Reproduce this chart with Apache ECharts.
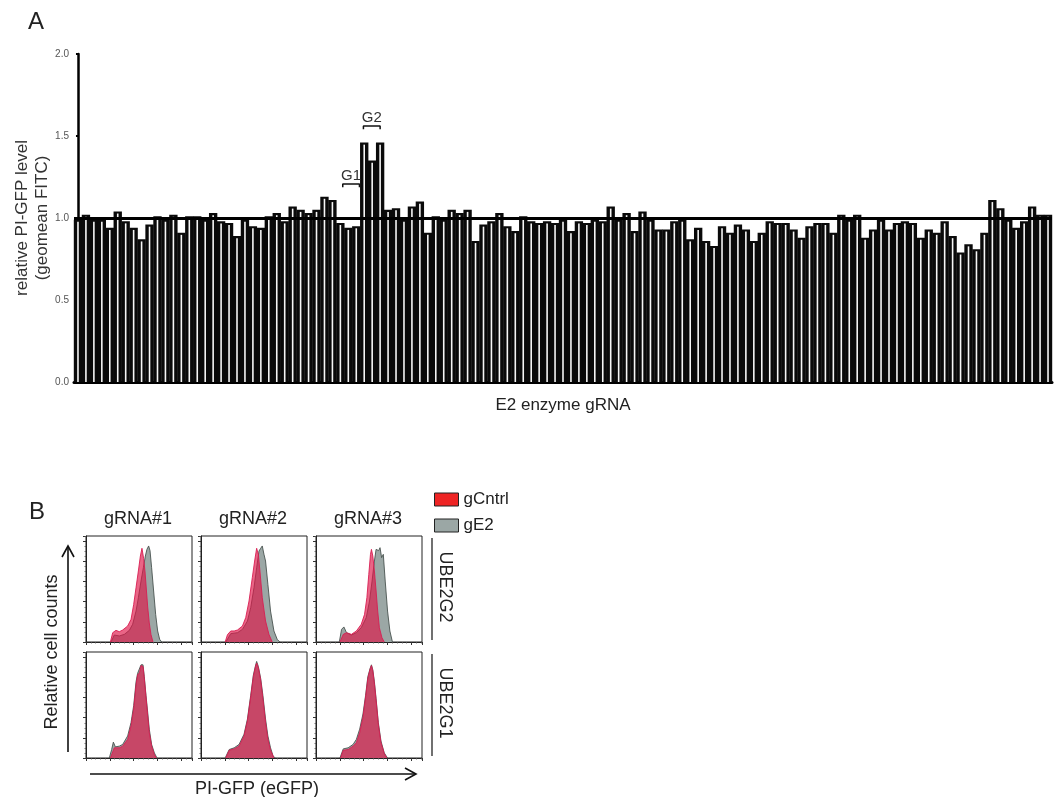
<!DOCTYPE html>
<html><head><meta charset="utf-8">
<script src="https://cdn.jsdelivr.net/npm/echarts@6/dist/echarts.min.js"></script>
<style>html,body{margin:0;padding:0;background:#fff}#c{width:1056px;height:797px}</style>
</head><body><div id="c"></div>
<script>
// ---------- Panel A data ----------
const relativeLevel = [
  0.99,1.02,0.99,0.99,0.94,1.04,0.98,0.94,0.87,0.96,
  1.01,0.99,1.02,0.91,1.01,1.01,0.99,1.03,0.98,0.97,
  0.89,0.99,0.95,0.94,1.01,1.03,0.98,1.07,1.05,1.03,
  1.05,1.13,1.11,0.97,0.94,0.95,1.46,1.35,1.46,1.05,
  1.06,0.99,1.07,1.10,0.91,1.01,0.99,1.05,1.03,1.05,
  0.86,0.96,0.98,1.03,0.95,0.92,1.01,0.98,0.97,0.98,
  0.97,0.99,0.92,0.98,0.97,0.99,0.98,1.07,0.99,1.03,
  0.92,1.04,0.99,0.93,0.93,0.98,0.99,0.87,0.94,0.86,
  0.83,0.95,0.91,0.96,0.93,0.86,0.91,0.98,0.97,0.97,
  0.93,0.88,0.95,0.97,0.97,0.91,1.02,0.99,1.02,0.88,
  0.93,0.99,0.93,0.97,0.98,0.97,0.88,0.93,0.91,0.98,
  0.89,0.79,0.84,0.81,0.91,1.11,1.06,0.99,0.94,0.98,
  1.07,1.02,1.02
];
const gRNACategories = relativeLevel.map((v, i) => 'gRNA ' + (i + 1));
const referenceLevel = 1.0;
const groupMarks = [
  { name: 'G1', from: 33.3, to: 35.4, y: 1.207, textY: 1.256 },
  { name: 'G2', from: 35.9, to: 38.0, y: 1.561, textY: 1.613 }
];

// ---------- Panel B data (x: display channel %, y: % of max count) ----------
const columnLabels = ['gRNA#1', 'gRNA#2', 'gRNA#3'];
const rowLabels = ['UBE2G2', 'UBE2G1'];
const legendNames = ['gCntrl', 'gE2'];

const ube2g2_g1_gCntrl = [[23.0,0],[25.2,8.8],[28.3,11.0],[31.4,9.7],[34.6,11.3],[39.3,15.1],[42.5,21.4],[45.0,35.5],[47.2,51.3],[49.4,67.0],[51.3,81.1],[52.8,88.4],[54.4,78.6],[55.7,66.0],[56.9,50.0],[58.2,33.0],[59.7,18.0],[61.3,7.0],[63.2,0]];
const ube2g2_g1_gE2 = [[23.6,0],[26.7,6.6],[31.4,5.7],[36.2,7.2],[40.9,11.0],[44.0,16.7],[47.2,29.2],[49.4,41.8],[51.9,57.5],[54.1,70.1],[56.0,81.1],[57.5,87.4],[59.1,90.6],[60.4,86.2],[61.9,70.1],[63.8,48.1],[65.7,26.1],[67.6,10.4],[69.5,2.5],[71.4,0]];
const ube2g2_g2_gCntrl = [[22.8,0],[25.0,7.0],[28.1,10.4],[31.3,10.4],[34.4,11.3],[39.1,15.1],[42.2,23.0],[45.3,38.7],[48.4,60.7],[50.6,76.4],[52.5,88.4],[54.1,82.7],[55.6,67.0],[57.8,41.8],[60.9,19.8],[64.1,7.2],[67.2,0]];
const ube2g2_g2_gE2 = [[23.4,0],[28.1,7.9],[34.4,8.8],[39.1,11.9],[43.8,19.8],[46.9,32.4],[50.0,51.3],[52.5,70.0],[54.7,85.8],[56.3,88.4],[57.8,90.6],[59.4,82.7],[60.9,76.4],[63.1,54.4],[65.6,29.2],[68.8,10.4],[71.9,2.5],[74.4,0]];
const ube2g2_g3_gCntrl = [[22.6,0],[25.7,7.2],[28.8,8.8],[33.4,7.2],[38.1,10.4],[42.7,16.7],[45.8,26.1],[48.0,41.8],[49.8,63.8],[51.4,82.7],[52.3,87.4],[53.6,81.1],[55.1,67.0],[56.7,48.1],[58.2,29.2],[59.8,13.5],[62.2,4.1],[64.4,0]];
const ube2g2_g3_gE2 = [[22.0,0],[24.1,11.9],[26.3,14.2],[28.8,8.8],[33.4,6.6],[38.1,8.8],[42.7,13.5],[47.4,23.0],[50.5,38.7],[52.9,57.5],[55.1,76.4],[56.7,87.4],[58.2,89.0],[59.1,86.2],[60.4,89.0],[61.9,79.6],[63.5,82.7],[65.3,57.5],[67.5,29.2],[69.7,10.4],[72.1,0]];
const ube2g1_g1_gCntrl = [[23.0,0],[26.7,9.6],[31.4,9.6],[34.6,11.2],[39.3,17.6],[42.5,30.4],[45.0,46.3],[47.2,68.7],[48.7,78.3],[50.6,80.8],[51.9,87.2],[52.8,88.5],[53.8,86.3],[55.0,75.1],[56.6,57.5],[58.2,39.9],[59.7,24.0],[61.9,11.2],[64.5,3.2],[66.4,0]];
const ube2g1_g1_gE2 = [[22.0,0],[24.2,8.0],[25.8,15.0],[27.7,10.5],[31.4,11.2],[34.6,12.8],[39.3,20.8],[42.5,33.5],[45.0,49.5],[47.2,71.9],[48.7,79.9],[50.3,81.5],[51.9,87.9],[52.8,89.5],[53.8,87.9],[55.0,76.7],[56.6,59.1],[58.2,43.1],[59.7,27.2],[61.9,12.8],[64.5,4.8],[67.0,0]];
const ube2g1_g2_gCntrl = [[23.4,0],[26.6,7.3],[31.3,8.6],[35.9,11.2],[40.6,20.8],[43.8,35.1],[46.9,57.5],[49.4,76.7],[51.6,87.2],[52.5,89.5],[54.1,85.3],[56.3,73.5],[58.4,55.9],[60.9,33.5],[63.1,17.6],[65.6,7.3],[68.8,0]];
const ube2g1_g2_gE2 = [[22.8,0],[26.6,8.0],[31.3,9.6],[35.9,12.8],[40.6,22.4],[43.8,36.7],[46.9,59.1],[49.4,78.3],[51.6,87.9],[52.5,91.1],[54.1,86.3],[56.3,75.1],[58.4,59.1],[60.9,36.7],[63.1,20.8],[65.6,9.6],[68.1,1.6],[70.3,0]];
const ube2g1_g3_gCntrl = [[23.2,0],[25.7,7.3],[30.3,8.0],[35.0,11.2],[38.1,14.4],[41.2,24.0],[44.3,38.3],[46.8,57.5],[48.9,75.1],[51.1,84.0],[52.3,87.2],[53.6,82.1],[55.1,70.3],[56.7,54.3],[58.8,31.9],[61.3,14.4],[64.4,4.2],[66.8,0]];
const ube2g1_g3_gE2 = [[22.6,0],[25.7,8.6],[30.3,9.6],[35.0,12.8],[38.1,17.6],[41.2,27.2],[44.3,41.5],[46.8,59.1],[48.9,76.7],[51.1,84.7],[52.3,87.9],[53.6,83.1],[55.1,71.9],[56.7,55.9],[58.8,33.5],[61.3,16.0],[64.4,4.8],[67.5,0]];

const panels = [
  [ [ube2g2_g1_gCntrl, ube2g2_g1_gE2], [ube2g2_g2_gCntrl, ube2g2_g2_gE2], [ube2g2_g3_gCntrl, ube2g2_g3_gE2] ],
  [ [ube2g1_g1_gCntrl, ube2g1_g1_gE2], [ube2g1_g2_gCntrl, ube2g1_g2_gE2], [ube2g1_g3_gCntrl, ube2g1_g3_gE2] ]
];

// ---------- Layout / style ----------
const FONT = 'Liberation Sans, Arial, sans-serif';
const panelLefts = [86, 201, 316];
const panelTops = [536, 652];
const panelSize = 106;
const redLegend = '#ee2424';
const grayFill = '#9ba7a5';

const chart = echarts.init(document.getElementById('c'), null, { renderer: 'canvas' });

const grids = [{ left: 74, top: 54, width: 978, height: 328, outerBoundsMode: 'none', containLabel: false }];
const xAxes = [
  {
    type: 'category', gridIndex: 0, data: gRNACategories,
    axisLine: { show: true, lineStyle: { color: '#000', width: 3 } },
    axisTick: { show: false }, axisLabel: { show: false }, splitLine: { show: false },
    name: 'E2 enzyme gRNA', nameLocation: 'middle', nameGap: 15,
    nameTextStyle: { fontSize: 17, color: '#222', fontFamily: FONT, verticalAlign: 'top' }
  },
  { type: 'value', gridIndex: 0, min: -0.5, max: gRNACategories.length - 0.5, show: false }
];
const yAxes = [
  {
    type: 'value', gridIndex: 0, min: 0, max: 2, interval: 0.5,
    axisLine: { show: true, lineStyle: { color: '#000', width: 2.5 } },
    axisTick: { show: true, length: 2, lineStyle: { color: '#000', width: 2 } },
    axisLabel: { fontSize: 10, color: '#555', fontFamily: FONT, margin: 5, formatter: v => v.toFixed(1) },
    splitLine: { show: false },
    name: 'relative PI-GFP level\n(geomean FITC)', nameLocation: 'middle', nameGap: 22, nameMoveOverlap: false,
    nameTextStyle: { fontSize: 17, color: '#333', fontFamily: FONT, lineHeight: 20 }
  }
];

const series = [
  {
    type: 'custom', xAxisIndex: 0, yAxisIndex: 0, name: 'relative level',
    data: relativeLevel.map((v, i) => [i, v]),
    encode: { x: 0, y: 1 },
    renderItem: function (params, api) {
      const idx = api.value(0), v = api.value(1);
      const top = api.coord([idx, v]);
      const base = api.coord([idx, 0]);
      const bw = api.size([1, 0])[0];
      const h = base[1] - top[1];
      return {
        type: 'group', children: [
          { type: 'rect', shape: { x: top[0] - bw / 2 - 0.2, y: top[1], width: bw + 0.4, height: h }, style: { fill: '#0a0a0a' } },
          { type: 'rect', shape: { x: top[0] - 0.8, y: top[1] + 2.1, width: 1.6, height: Math.max(0, h - 2.1) }, style: { fill: '#f6f6f6' } }
        ]
      };
    },
    markLine: {
      silent: true, symbol: ['none', 'none'], animation: false,
      lineStyle: { color: '#000', width: 3, type: 'solid' },
      label: { show: false },
      data: [{ yAxis: referenceLevel }]
    },
    z: 2
  }
];

groupMarks.forEach(g => {
  series.push({
    type: 'line', xAxisIndex: 1, yAxisIndex: 0, symbol: 'none', silent: true,
    lineStyle: { color: '#111', width: 1.5 },
    data: [[g.from, g.y - 0.02], [g.from, g.y], [g.to, g.y], [g.to, g.y - 0.02]],
    z: 5
  });
});
series.push({
  type: 'scatter', xAxisIndex: 1, yAxisIndex: 0, symbolSize: 1, silent: true,
  itemStyle: { color: 'rgba(0,0,0,0)' },
  label: { show: true, position: 'inside', formatter: '{b}', fontSize: 15, color: '#333', fontFamily: FONT, opacity: 1 },
  data: groupMarks.map(g => ({ name: g.name, value: [(g.from + g.to) / 2, g.textY] })),
  z: 5
});

// Panel B grids
panelTops.forEach((top, r) => {
  panelLefts.forEach((left, c) => {
    const gi = grids.length;
    grids.push({ left: left, top: top, width: panelSize, height: panelSize, show: true, borderColor: '#222', borderWidth: 1, backgroundColor: 'transparent', outerBoundsMode: 'none', containLabel: false });
    xAxes.push({
      type: 'value', gridIndex: gi, min: 0, max: 100, interval: 22.5,
      axisLine: { show: true, lineStyle: { color: '#222', width: 1 } },
      axisTick: { show: true, length: 3, lineStyle: { color: '#333', width: 1 } },
      minorTick: { show: true, splitNumber: 5, length: 1.5, lineStyle: { color: '#555', width: 0.8 } },
      axisLabel: { show: false }, splitLine: { show: false }
    });
    yAxes.push({
      type: 'value', gridIndex: gi, min: 0, max: 100, interval: 19,
      axisLine: { show: true, lineStyle: { color: '#222', width: 1 } },
      axisTick: { show: true, length: 3, lineStyle: { color: '#333', width: 1 } },
      minorTick: { show: true, splitNumber: 4, length: 1.5, lineStyle: { color: '#555', width: 0.8 } },
      axisLabel: { show: false }, splitLine: { show: false }
    });
    const xi = xAxes.length - 1, yi = yAxes.length - 1;
    const [cntrl, e2] = panels[r][c];
    series.push({
      type: 'line', name: 'gE2', xAxisIndex: xi, yAxisIndex: yi, data: e2, symbol: 'none', silent: true,
      itemStyle: { color: grayFill },
      lineStyle: { color: '#4a5350', width: 0.9 },
      areaStyle: { color: grayFill, opacity: 1 }, z: 3
    });
    series.push({
      type: 'line', name: 'gCntrl', xAxisIndex: xi, yAxisIndex: yi, data: cntrl, symbol: 'none', silent: true,
      itemStyle: { color: redLegend },
      lineStyle: { color: '#d81e52', width: 0.9 },
      areaStyle: { color: 'rgba(222,22,72,0.66)', opacity: 1 }, z: 4
    });
  });
});

const graphics = [
  { type: 'text', x: 36, y: 22, style: { text: 'A', fontSize: 24, fill: '#222', fontFamily: FONT, align: 'center', verticalAlign: 'middle' } },
  { type: 'text', x: 37, y: 512, style: { text: 'B', fontSize: 24, fill: '#222', fontFamily: FONT, align: 'center', verticalAlign: 'middle' } },
  { type: 'text', x: 52, y: 652, rotation: Math.PI / 2, style: { text: 'Relative cell counts', fontSize: 18, fill: '#222', fontFamily: FONT, align: 'center', verticalAlign: 'middle' } },
  { type: 'text', x: 257, y: 789, style: { text: 'PI-GFP (eGFP)', fontSize: 18, fill: '#222', fontFamily: FONT, align: 'center', verticalAlign: 'middle' } },
  { type: 'line', shape: { x1: 68, y1: 752, x2: 68, y2: 546 }, style: { stroke: '#111', lineWidth: 1.6 } },
  { type: 'polyline', shape: { points: [[62, 557], [68, 546], [74, 557]] }, style: { stroke: '#111', lineWidth: 1.6, fill: null } },
  { type: 'line', shape: { x1: 90, y1: 774, x2: 416, y2: 774 }, style: { stroke: '#111', lineWidth: 1.6 } },
  { type: 'polyline', shape: { points: [[405, 768], [416, 774], [405, 780]] }, style: { stroke: '#111', lineWidth: 1.6, fill: null } }
];
columnLabels.forEach((t, c) => {
  graphics.push({ type: 'text', x: panelLefts[c] + panelSize / 2 - 1, y: 519, style: { text: t, fontSize: 18, fill: '#222', fontFamily: FONT, align: 'center', verticalAlign: 'middle' } });
});
rowLabels.forEach((t, r) => {
  const cy = panelTops[r] + panelSize / 2;
  graphics.push({ type: 'text', x: 445, y: cy - 2, rotation: -Math.PI / 2, style: { text: t, fontSize: 18, fill: '#222', fontFamily: FONT, align: 'center', verticalAlign: 'middle' } });
  graphics.push({ type: 'line', shape: { x1: 432, y1: panelTops[r] + 2, x2: 432, y2: panelTops[r] + panelSize - 2 }, style: { stroke: '#111', lineWidth: 1.2 } });
});

chart.setOption({
  animation: false,
  backgroundColor: '#fff',
  grid: grids,
  xAxis: xAxes,
  yAxis: yAxes,
  legend: {
    orient: 'vertical', left: 429, top: 486, itemWidth: 24, itemHeight: 13, itemGap: 9,
    icon: 'rect', selectedMode: false,
    textStyle: { fontSize: 17, color: '#222', fontFamily: FONT, padding: [0, 0, 0, 0] },
    data: [
      { name: legendNames[0], itemStyle: { color: redLegend, borderColor: '#222', borderWidth: 1 } },
      { name: legendNames[1], itemStyle: { color: grayFill, borderColor: '#222', borderWidth: 1 } }
    ]
  },
  series: series,
  graphic: graphics
});
</script>
</body></html>
